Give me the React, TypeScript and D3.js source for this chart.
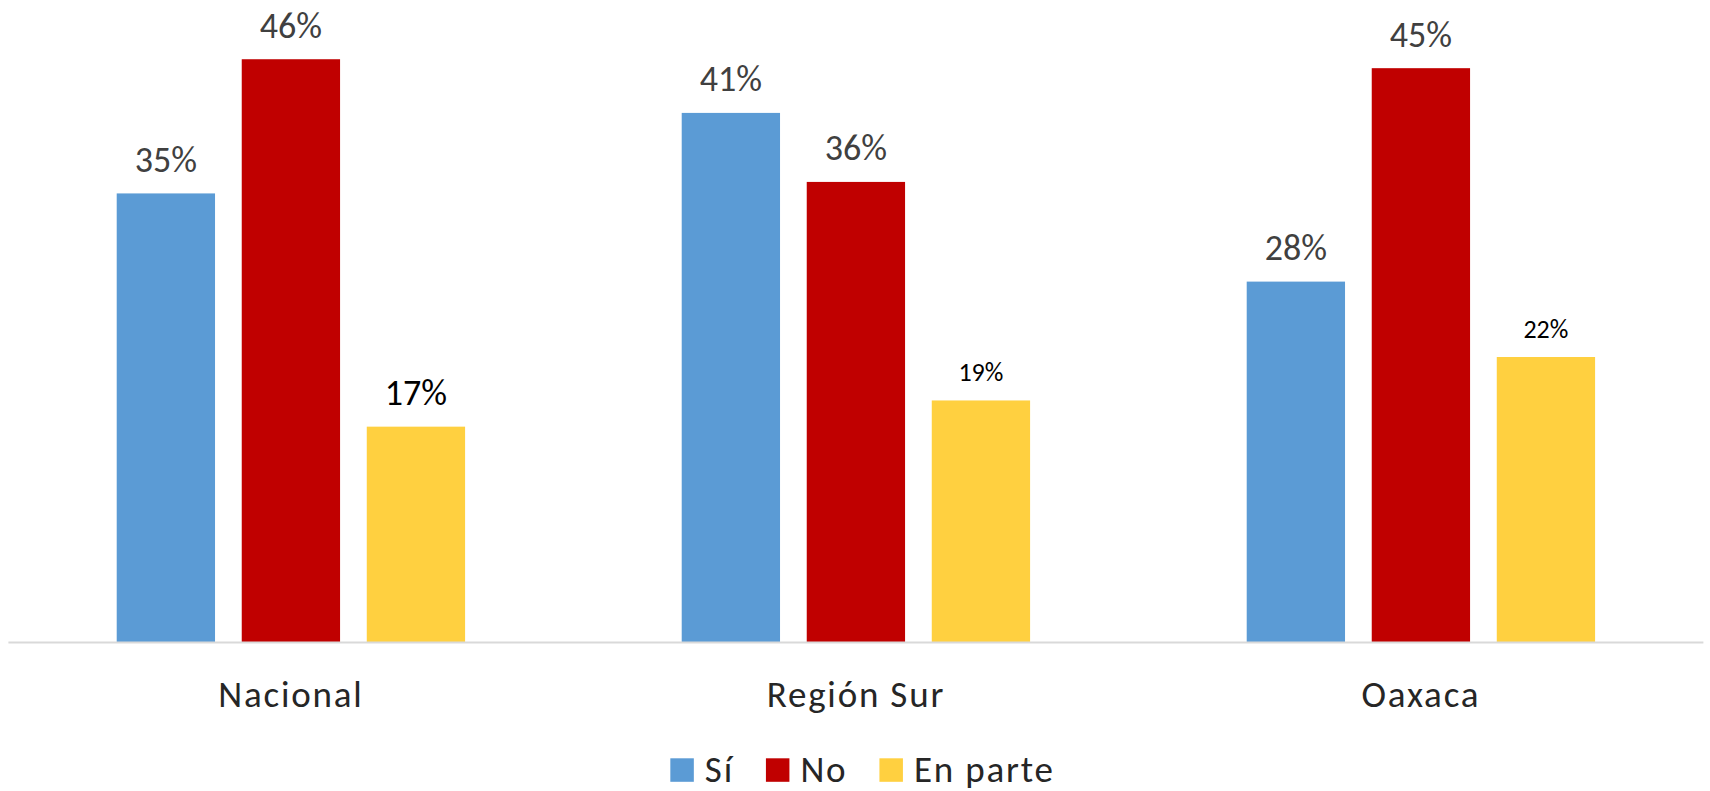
import { useEffect, useRef } from 'react';
import * as d3 from 'd3';

const categories = ['Nacional', 'Región Sur', 'Oaxaca'];
const seriesNames = ['Sí', 'No', 'En parte'];
const siValues = [35.1, 41.4, 28.2];
const noValues = [45.6, 36.0, 44.9];
const enParteValues = [16.85, 18.9, 22.3];
const seriesColors = ['#5B9BD5', '#C00000', '#FFD040'];

const WIDTH = 1710;
const HEIGHT = 791;
const FONT = 'Calibri, Carlito, sans-serif';

interface BarDatum {
  category: string;
  series: string;
  value: number;
  idx: number;
}

export default function App() {
  const svgRef = useRef<SVGSVGElement>(null);

  useEffect(() => {
    if (!svgRef.current) return;

    const margin = { top: 3, right: 6.6, bottom: 149, left: 8.4 };
    const baseline = HEIGHT - margin.bottom;

    const svg = d3.select(svgRef.current);
    svg.selectAll('*').remove();

    const allSeries = [siValues, noValues, enParteValues];
    const data: BarDatum[] = [];
    categories.forEach((c, ci) => {
      seriesNames.forEach((s, si) => {
        data.push({ category: c, series: s, value: allSeries[si][ci], idx: si });
      });
    });

    const x0 = d3
      .scaleBand()
      .domain(categories)
      .range([margin.left, WIDTH - margin.right]);

    const groupPad = x0.bandwidth() * 0.1917;
    const x1 = d3
      .scaleBand()
      .domain(seriesNames)
      .range([groupPad, x0.bandwidth() - groupPad])
      .paddingInner(0.2136);

    const yScale = d3.scaleLinear().domain([0, 50]).range([baseline, margin.top]);

    // Bars
    svg
      .append('g')
      .selectAll('rect')
      .data(data)
      .join('rect')
      .attr('x', (d) => (x0(d.category) ?? 0) + (x1(d.series) ?? 0))
      .attr('y', (d) => yScale(d.value))
      .attr('width', x1.bandwidth())
      .attr('height', (d) => baseline - yScale(d.value))
      .attr('fill', (d) => seriesColors[d.idx]);

    // Axis line
    svg
      .append('line')
      .attr('x1', margin.left)
      .attr('x2', WIDTH - margin.right)
      .attr('y1', baseline + 0.5)
      .attr('y2', baseline + 0.5)
      .attr('stroke', '#D9D9D9')
      .attr('stroke-width', 2);

    // Data labels (the "En parte" ones of the last two groups are smaller and black)
    const isSmall = (d: BarDatum) => d.idx === 2 && d.category !== 'Nacional';
    svg
      .append('g')
      .selectAll('text')
      .data(data)
      .join('text')
      .attr('x', (d) => (x0(d.category) ?? 0) + (x1(d.series) ?? 0) + x1.bandwidth() / 2)
      .attr('y', (d) => yScale(d.value) - (isSmall(d) ? 19.5 : 21.5))
      .attr('text-anchor', 'middle')
      .attr('font-family', FONT)
      .attr('font-size', (d) => (isSmall(d) ? 26 : 36))
      .attr('fill', (d) => (d.idx === 2 ? '#000000' : '#404040'))
      .text((d) => `${Math.round(d.value)}%`);

    // Category labels
    svg
      .append('g')
      .selectAll('text')
      .data(categories)
      .join('text')
      .attr('x', (d) => (x0(d) ?? 0) + x0.bandwidth() / 2)
      .attr('y', 707)
      .attr('text-anchor', 'middle')
      .attr('font-family', FONT)
      .attr('font-size', 37)
      .attr('letter-spacing', 1.8)
      .attr('fill', '#262626')
      .text((d) => d);

    // Legend
    const legend = svg.append('g');
    const box = 23.5;
    const boxGap = 11;
    const itemGap = 32;
    const items = seriesNames.map((name, i) => {
      const g = legend.append('g');
      g.append('rect')
        .attr('width', box)
        .attr('height', box)
        .attr('y', 758.3)
        .attr('fill', seriesColors[i]);
      const t = g
        .append('text')
        .attr('x', box + boxGap)
        .attr('y', 781.7)
        .attr('font-family', FONT)
        .attr('font-size', 37)
        .attr('letter-spacing', 1.8)
        .attr('fill', '#262626')
        .text(name);
      const w = (t.node() as SVGTextElement).getComputedTextLength();
      return { g, w: box + boxGap + w };
    });
    const total = d3.sum(items, (d) => d.w) + itemGap * (items.length - 1);
    let cx = 862.5 - total / 2;
    items.forEach((it) => {
      it.g.attr('transform', `translate(${cx},0)`);
      cx += it.w + itemGap;
    });
  }, []);

  return (
    <svg
      ref={svgRef}
      width={WIDTH}
      height={HEIGHT}
      style={{ position: 'absolute', left: 0, top: 0, display: 'block', background: '#fff' }}
    />
  );
}
